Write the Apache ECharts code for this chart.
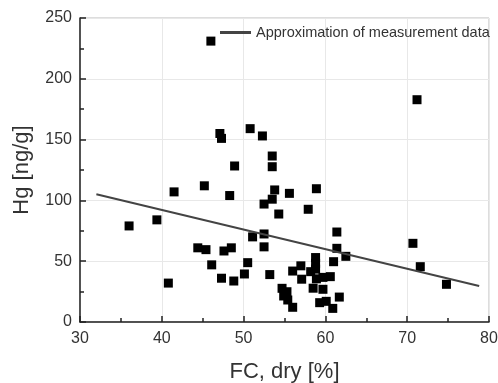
<!DOCTYPE html>
<html>
<head>
<meta charset="utf-8">
<script src="https://cdn.jsdelivr.net/npm/echarts@6/dist/echarts.min.js"></script>
<style>html,body{margin:0;padding:0;background:#fff}#c{width:498px;height:383px}</style>
</head>
<body>
<div id="c"></div>
<script>
const fcDry = [36.0,39.4,40.8,41.5,45.2,44.4,45.4,46.1,46.0,47.1,47.3,47.6,48.5,47.3,48.8,48.3,48.9,50.1,50.5,50.8,51.1,52.3,52.5,52.5,53.2,52.5,53.5,53.5,53.5,53.8,54.3,55.6,58.9,57.9,61.4,61.4,62.5,61.0,58.8,58.8,58.8,58.2,57.0,56.0,57.1,58.9,59.7,60.6,58.5,59.7,61.7,59.3,60.1,60.9,54.7,55.3,54.9,55.4,56.0,70.7,71.6,74.8,71.2];
const hg = [79,84,32,107,112,61,59.5,47,231,155,151,58.4,61,36,33.7,104,128.3,39.5,48.8,159,70,153,72.4,61.8,39,97,101,136.5,127.7,108.6,88.8,105.8,109.6,92.7,74,60.6,54,49.6,53,48.2,43.5,41.4,46.2,41.9,35.2,35.5,36.7,37.3,27.8,26.9,20.5,15.9,17,11.2,27.7,24.9,21.4,18.1,12.1,64.7,45.5,31,182.8];
const trendX = [32, 78.8];
const trendY = [105, 29.6];
const xTicks = [30, 40, 50, 60, 70, 80];
const yTicks = [0, 50, 100, 150, 200, 250];
const legendLabel = 'Approximation of measurement data';

const chart = echarts.init(document.getElementById('c'), null, {renderer: 'canvas'});
const font = 'Liberation Sans, Arial, sans-serif';
chart.setOption({
  animation: false,
  backgroundColor: '#fff',
  textStyle: {fontFamily: font},
  grid: {left: 80, right: 9, top: 18, bottom: 61, show: true, borderColor: '#bbb', borderWidth: 1, outerBoundsMode: 'none', containLabel: false},
  legend: {
    left: 215, top: 20, itemWidth: 31, itemHeight: 3, itemGap: 3,
    icon: 'rect',
    textStyle: {fontSize: 14.5, color: '#333', fontFamily: font},
    data: [legendLabel]
  },
  xAxis: {
    type: 'value', min: xTicks[0], max: xTicks[xTicks.length-1], interval: 10,
    name: 'FC, dry [%]', nameLocation: 'middle', nameGap: 39,
    nameTextStyle: {fontSize: 22, color: '#333', fontFamily: font},
    axisLine: {show: true, onZero: false, lineStyle: {color: '#222', width: 1.5}},
    axisTick: {show: true, inside: true, length: 6, lineStyle: {color: '#222', width: 1.5}},
    minorTick: {show: true, splitNumber: 2, length: 4, lineStyle: {color: '#222', width: 1.5}},
    axisLabel: {fontSize: 16, color: '#333', margin: 9, fontFamily: font},
    splitLine: {show: true, lineStyle: {color: '#e8e8e8', width: 1}}
  },
  yAxis: {
    type: 'value', min: yTicks[0], max: yTicks[yTicks.length-1], interval: 50,
    name: 'Hg [ng/g]', nameLocation: 'middle', nameGap: 47, nameRotate: 90,
    nameTextStyle: {fontSize: 22, color: '#333', fontFamily: font},
    axisLine: {show: true, onZero: false, lineStyle: {color: '#222', width: 1.5}},
    axisTick: {show: true, inside: true, length: 6, lineStyle: {color: '#222', width: 1.5}},
    minorTick: {show: true, splitNumber: 2, length: 4, lineStyle: {color: '#222', width: 1.5}},
    axisLabel: {fontSize: 16, color: '#333', margin: 8, fontFamily: font},
    splitLine: {show: true, lineStyle: {color: '#e8e8e8', width: 1}}
  },
  series: [
    {
      type: 'scatter', name: 'data', symbol: 'rect', symbolSize: 9,
      itemStyle: {color: '#000', opacity: 1},
      data: fcDry.map((x, i) => [x, hg[i]]),
      z: 3
    },
    {
      type: 'line', name: legendLabel, symbol: 'none',
      lineStyle: {color: '#444', width: 2},
      itemStyle: {color: '#444'},
      data: trendX.map((x, i) => [x, trendY[i]]),
      z: 4
    }
  ]
});
</script>
</body>
</html>
